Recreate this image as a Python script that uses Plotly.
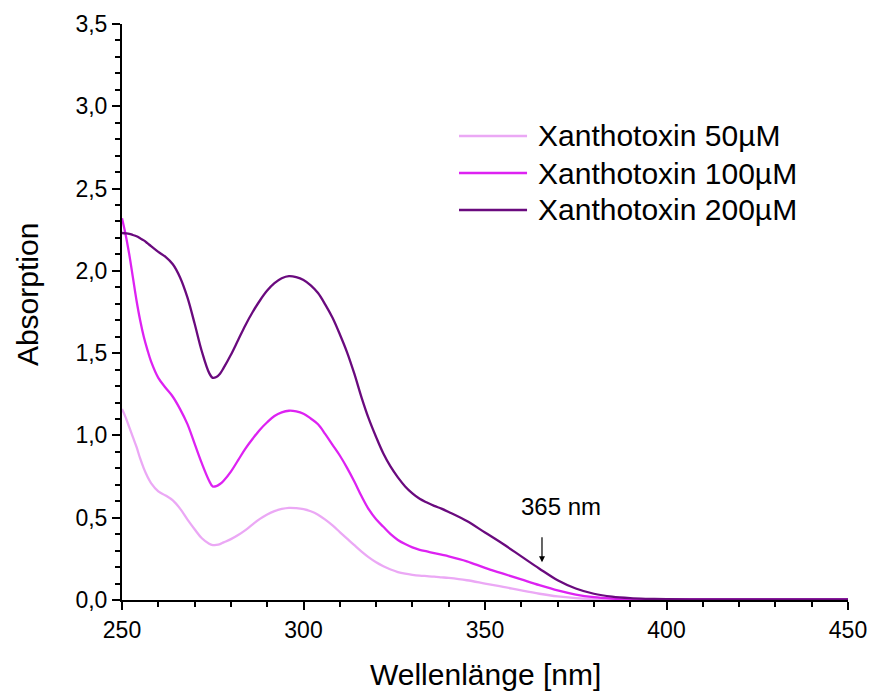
import plotly.graph_objects as go

wavelength = ([250, 251, 252, 253, 254, 255, 256, 257, 258]
              + [260, 262, 264, 266, 268, 270, 272, 274]
              + [275, 276, 277]
              + list(range(278, 341, 2))
              + list(range(345, 401, 5))
              + [410, 420, 430, 440, 450])

xan_50 = [1.16, 1.11, 1.05, 0.99, 0.93, 0.86, 0.80, 0.75, 0.71,
          0.66, 0.635, 0.605, 0.555, 0.49, 0.43, 0.375, 0.342,
          0.334, 0.335, 0.34,
          0.35, 0.37, 0.395, 0.425, 0.46, 0.493, 0.52, 0.54, 0.553, 0.56, 0.558, 0.552,
          0.539, 0.518, 0.488, 0.453, 0.413, 0.373, 0.333, 0.294, 0.259, 0.229, 0.205, 0.185,
          0.17, 0.16, 0.153, 0.148, 0.145, 0.142, 0.138, 0.134,
          0.12, 0.10, 0.08, 0.058, 0.038, 0.022, 0.012, 0.006, 0.004, 0.003, 0.002, 0.002,
          0.002, 0.002, 0.002, 0.002, 0.002]

xan_100 = [2.32, 2.22, 2.10, 1.96, 1.82, 1.70, 1.60, 1.52, 1.45,
           1.35, 1.29, 1.235, 1.16, 1.07, 0.95, 0.83, 0.725,
           0.69, 0.692, 0.705,
           0.725, 0.78, 0.85, 0.92, 0.98, 1.035, 1.08, 1.118, 1.14, 1.15, 1.146, 1.132,
           1.103, 1.068, 1.008, 0.943, 0.878, 0.803, 0.72, 0.63, 0.55, 0.49, 0.445, 0.40,
           0.365, 0.34, 0.32, 0.305, 0.295, 0.285, 0.275, 0.265,
           0.235, 0.195, 0.16, 0.125, 0.09, 0.058, 0.033, 0.017, 0.009, 0.005, 0.004, 0.003,
           0.003, 0.003, 0.003, 0.003, 0.003]

xan_200 = [2.23, 2.228, 2.225, 2.218, 2.21, 2.198, 2.185, 2.168, 2.15,
           2.115, 2.085, 2.04, 1.96, 1.84, 1.68, 1.51, 1.38,
           1.35, 1.355, 1.375,
           1.41, 1.49, 1.58, 1.67, 1.75, 1.82, 1.88, 1.925, 1.955, 1.968, 1.962, 1.945,
           1.912, 1.865, 1.795, 1.715, 1.615, 1.505, 1.375, 1.23, 1.10, 0.99, 0.89, 0.81,
           0.745, 0.69, 0.648, 0.615, 0.592, 0.572, 0.555, 0.535,
           0.48, 0.41, 0.34, 0.265, 0.19, 0.12, 0.07, 0.038, 0.02, 0.011, 0.007, 0.005,
           0.004, 0.004, 0.004, 0.004, 0.004]

series_names = ["Xanthotoxin 50µM", "Xanthotoxin 100µM", "Xanthotoxin 200µM"]
series_colors = ["#EBA8F5", "#DD22F2", "#6A0A7E"]

x_ticks = [250, 300, 350, 400, 450]
y_ticks = [0, 0.5, 1.0, 1.5, 2.0, 2.5, 3.0, 3.5]

FONT = "Liberation Sans, Arial, Helvetica, sans-serif"

fig = go.Figure()
for name, vals, col in zip(series_names, [xan_50, xan_100, xan_200], series_colors):
    fig.add_trace(go.Scatter(x=wavelength, y=vals, mode="lines", name=name,
                             showlegend=False,
                             line=dict(color=col, width=2.3, shape="spline", smoothing=1.0)))

# page body has an 8px default margin, so the figure is slightly smaller than the window
fig.update_layout(
    width=867, height=687,
    margin=dict(l=114, r=27, t=16, b=95, autoexpand=False),
    paper_bgcolor="white", plot_bgcolor="white",
    separators=", ",
    font=dict(family=FONT, color="black", size=23),
    showlegend=False,
)

fig.update_xaxes(range=[250, 450], tickvals=x_ticks, automargin=False,
                 showline=True, linecolor="black", linewidth=2,
                 ticks="outside", ticklen=8, tickwidth=2, tickcolor="black",
                 minor=dict(dtick=10, ticks="outside", ticklen=5, tickwidth=2, tickcolor="black"),
                 showgrid=False, zeroline=False, tickfont=dict(size=23))

fig.update_yaxes(range=[0, 3.5], tickvals=y_ticks, tickformat=".1f", automargin=False,
                 showline=True, linecolor="black", linewidth=2,
                 ticks="outside", ticklen=8, tickwidth=2, tickcolor="black",
                 minor=dict(dtick=0.1, ticks="outside", ticklen=5, tickwidth=2, tickcolor="black"),
                 showgrid=False, zeroline=False, tickfont=dict(size=23))

# axis titles
fig.add_annotation(x=-0.1309, y=0.531, xref="paper", yref="paper", text="Absorption",
                   textangle=-90, showarrow=False, xanchor="center", yanchor="middle",
                   font=dict(size=30))
fig.add_annotation(x=0.5, y=-0.13, xref="paper", yref="paper", text="Wellenlänge [nm]",
                   showarrow=False, xanchor="center", yanchor="middle", font=dict(size=30))

# legend (drawn manually)
leg_rows = [0.8056, 0.7413, 0.6771]
for name, col, yy in zip(series_names, series_colors, leg_rows):
    fig.add_shape(type="line", xref="paper", yref="paper", x0=0.4642, x1=0.5579, y0=yy, y1=yy,
                  line=dict(color=col, width=2.6))
    fig.add_annotation(x=0.5702, y=yy, xref="paper", yref="paper", text=name, showarrow=False,
                       xanchor="left", yanchor="middle", font=dict(size=30))

# 365 nm marker
fig.add_annotation(x=371, y=0.567, xref="x", yref="y", text="365 nm", showarrow=False,
                   xanchor="center", yanchor="middle", font=dict(size=24))
fig.add_annotation(x=365.7, y=0.23, xref="x", yref="y", ax=365.7, ay=0.39, axref="x", ayref="y",
                   text="", showarrow=True, arrowhead=2, arrowsize=1, arrowwidth=1.2,
                   arrowcolor="black")

fig.write_html("out.html")
